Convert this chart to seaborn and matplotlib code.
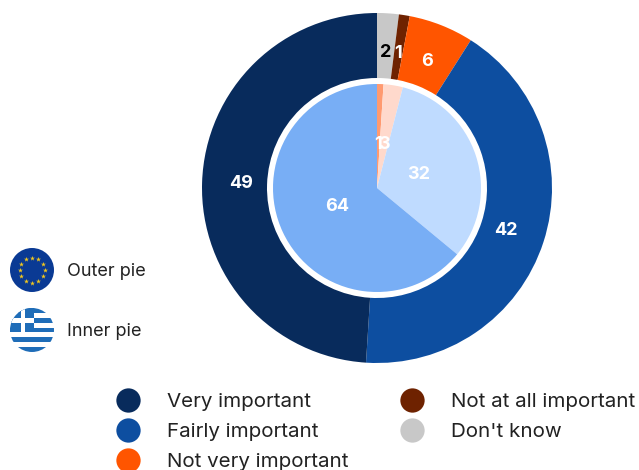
import matplotlib
matplotlib.use('Agg')
import matplotlib.pyplot as plt
from matplotlib.lines import Line2D
from matplotlib.patches import Circle, Rectangle
import numpy as np
import seaborn as sns

categories = ["Don't know", 'Not at all important', 'Not very important',
              'Fairly important', 'Very important']
outer_values = [2, 1, 6, 42, 49]
inner_values = [1, 3, 32, 64]
outer_colors = ['#C8C8C8', '#6E2200', '#FF5500', '#0D4EA0', '#082B5C']
inner_colors = ['#FF9A70', '#FFD9CC', '#BFDBFF', '#78AEF5']
outer_text = ['black', 'white', 'white', 'white', 'white']
legend_order = ['Very important', 'Fairly important', 'Not very important',
                'Not at all important', "Don't know"]
pie_names = ['Outer pie', 'Inner pie']

sns.set_theme(style='white')
plt.rcParams['font.family'] = ['Inter', 'DejaVu Sans']

fig = plt.figure(figsize=(6.39, 4.70), dpi=100)
ax = fig.add_axes([0, 0, 1, 1])

# the two pies, clockwise from the top
def draw_pie(values, colors, radius, dist, width=None):
    labels = iter(values)
    props = {'linewidth': 0, 'edgecolor': 'none'}
    if width:
        props['width'] = width
    return ax.pie(values, colors=colors, startangle=90, counterclock=False,
                  center=(377, 282), radius=radius, pctdistance=dist,
                  autopct=lambda p: str(next(labels)), wedgeprops=props,
                  textprops={'fontsize': 13, 'fontweight': 'bold', 'color': 'white'})

res = draw_pie(outer_values, outer_colors, 175, 136 / 175, width=65)
for t, c in zip(res[2], outer_text):
    t.set_color(c)
draw_pie(inner_values, inner_colors, 104, 44 / 104)

ax.set_xlim(0, 639)
ax.set_ylim(0, 470)
ax.set_aspect('equal')
ax.axis('off')

# EU flag
ax.add_patch(Circle((32, 200), 22, color='#0A3A94', lw=0))
star_angles = np.deg2rad(np.arange(0, 360, 30))
ax.scatter(32 + 12.5 * np.cos(star_angles), 200 + 12.5 * np.sin(star_angles),
           marker='*', s=14, color='#F2C81E', linewidths=0, zorder=3)

# Greek flag, clipped to a circle
clip = Circle((32, 140), 22, transform=ax.transData)
for i in range(9):
    y_top = 162 - i * 44 / 9
    col = '#1F6DB8' if i % 2 == 0 else 'white'
    ax.add_patch(Rectangle((10, y_top - 44 / 9), 44, 44 / 9, color=col, lw=0, clip_path=clip))
ax.add_patch(Rectangle((10, 162 - 5 * 44 / 9), 24, 5 * 44 / 9, color='#1F6DB8', lw=0, clip_path=clip))
ax.add_patch(Rectangle((10, 162 - 3 * 44 / 9), 24, 44 / 9, color='white', lw=0, clip_path=clip))
ax.add_patch(Rectangle((20.5, 162 - 5 * 44 / 9), 44 / 9, 5 * 44 / 9, color='white', lw=0, clip_path=clip))

ax.text(67, 199, pie_names[0], fontsize=13, va='center', color='#222222')
ax.text(67, 139, pie_names[1], fontsize=13, va='center', color='#222222')

# category legend
color_of = dict(zip(categories, outer_colors))
handles = [Line2D([], [], ls='none', marker='o', ms=17.5, mew=0, color=color_of[c], label=c)
           for c in legend_order]
ax.legend(handles=handles, ncol=2, frameon=False, fontsize=14.8, labelcolor='#222222',
          loc='lower left', bbox_to_anchor=(107.5 / 639, -0.003), borderaxespad=0, borderpad=0,
          labelspacing=0.57, handletextpad=0.9, columnspacing=2.1, handlelength=2)

fig.savefig('out.png', dpi=100)
